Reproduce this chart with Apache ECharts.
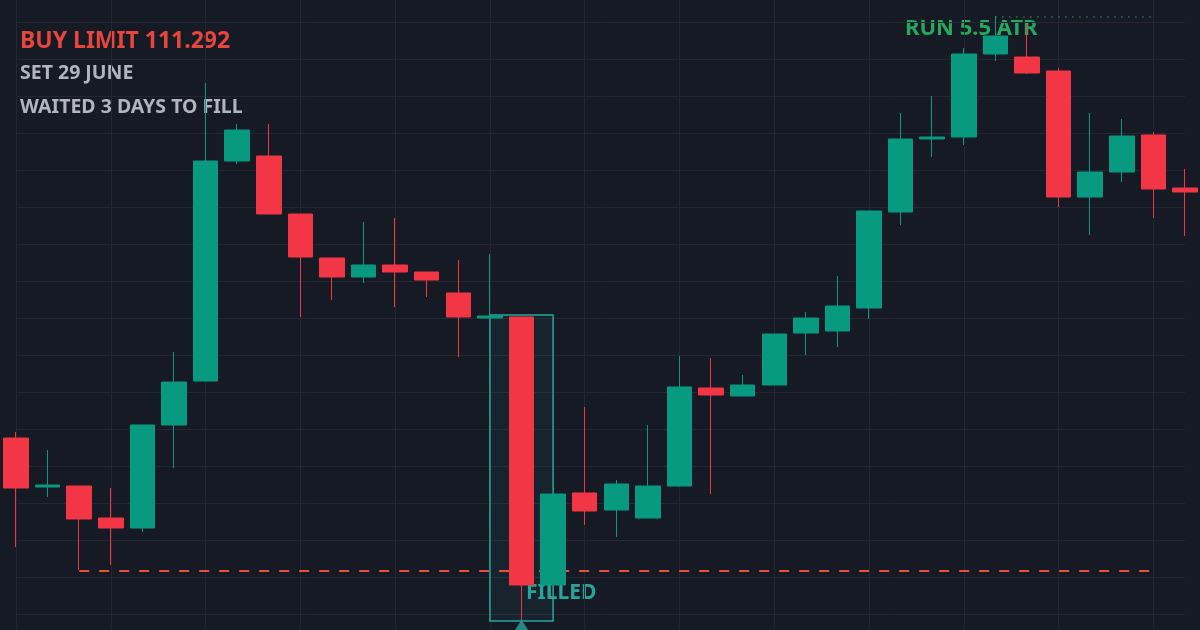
<!DOCTYPE html>
<html>
<head>
<meta charset="UTF-8">
<script src="https://cdn.jsdelivr.net/npm/echarts@6/dist/echarts.min.js"></script>
<style>html,body{margin:0;background:#161a25;}</style>
</head>
<body>
<div id="chart" style="width:1200px;height:630px;"></div>
<script>
// candles: [open, close, low, high]
const days = Array.from({length: 38}, (_, i) => 'D' + (i + 1));
const candles = [
  [213,163,104,219],[164,166,154,201],[165,132,81,165],[133,123,86,163],
  [123,226,119,226],[226,269,183,299],[270,490,270,568],[490,521,487,527],
  [495,437,437,527],[437,394,334,437],[393,374,351,393],[374,386,368,429],
  [386,379,344,433],[379,371,354,379],[358,334,294,391],[333,335,333,397],
  [334,66,31,334],[66,157,66,157],[158,140,126,244],[141,167,114,171],
  [133,165,133,226],[165,264,165,295],[263,256,157,293],[255,266,255,276],
  [266,317,266,317],[318,333,296,339],[320,345,304,375],[343,440,332,440],
  [439,512,426,538],[512,514,494,555],[514,597,506,603],[597,615,590,635],
  [594,578,577,627],[580,454,444,583],[454,479,416,538],[479,515,469,532],
  [516,462,433,519],[463,459,415,482]
];
const gridLevels = [37,74,111,148,185,222,259,296,333,370,407,444,481,518,555,592,629];
const limitLevel = 80;
const fillBox = {from: 15, to: 17, low: 30, high: 336};
const fillMarker = [[16, 25]];
const runLevel = 634;

const chart = echarts.init(document.getElementById('chart'));
const teal = '#26a69a';
chart.setOption({
  backgroundColor: '#161a25',
  animation: false,
  grid: {left: 16, right: 15, top: 0, bottom: 0},
  xAxis: {
    type: 'category', data: days, boundaryGap: false,
    axisLine: {show: false}, axisTick: {show: false}, axisLabel: {show: false},
    splitLine: {show: true, interval: 2, lineStyle: {color: '#242733'}}
  },
  yAxis: {
    type: 'value', min: 21, max: 651,
    axisLine: {show: false}, axisTick: {show: false}, axisLabel: {show: false},
    splitLine: {show: false}
  },
  series: [
    {
      type: 'line', data: [], z: 0, zlevel: 0, silent: true,
      markLine: {
        silent: true, symbol: 'none', label: {show: false}, z: 0,
        lineStyle: {color: '#242733', type: 'solid', width: 1},
        data: gridLevels.map(v => ({yAxis: v}))
      }
    },
    {
      type: 'candlestick',
      data: candles,
      barWidth: 25,
      z: 10,
      itemStyle: {color: '#089981', color0: '#f23645', borderColor: '#089981', borderColor0: '#f23645', borderWidth: 1},
      markArea: {
        silent: true, z: 1,
        itemStyle: {color: 'rgba(38,166,154,0.08)', borderColor: teal, borderWidth: 1.5},
        data: [[{coord: [fillBox.from, fillBox.high]}, {coord: [fillBox.to, fillBox.low]}]]
      },
      markLine: {
        silent: true, symbol: 'none', label: {show: false}, z: 2,
        data: [
          [{coord: [2, limitLevel], lineStyle: {color: '#e8503a', type: [10, 10], width: 2}},
           {coord: [36, limitLevel]}],
          [{coord: [31, runLevel], lineStyle: {color: '#22ab5e', type: [1, 6], width: 1.5}},
           {coord: [36, runLevel]}]
        ]
      }
    },
    {
      type: 'scatter', data: fillMarker, symbol: 'triangle', symbolSize: [16, 12],
      itemStyle: {color: teal}, z: 12
    }
  ],
  graphic: [
    {type: 'text', left: 20, top: 30, style: {text: 'BUY LIMIT 111.292', fill: '#e8453c', font: 'bold 23px "Noto Sans"'}},
    {type: 'text', left: 20, top: 63, style: {text: 'SET 29 JUNE', fill: '#b2b5be', font: 'bold 19.5px "Noto Sans"'}},
    {type: 'text', left: 20, top: 97, style: {text: 'WAITED 3 DAYS TO FILL', fill: '#b2b5be', font: 'bold 19.5px "Noto Sans"'}},
    {type: 'text', left: 905, top: 18, style: {text: 'RUN 5.5 ATR', fill: '#22ab5e', font: 'bold 22px "Noto Sans"'}},
    {type: 'text', left: 526, top: 583, style: {text: 'FILLED', fill: teal, font: 'bold 21px "Noto Sans"'}}
  ]
});
</script>
</body>
</html>
